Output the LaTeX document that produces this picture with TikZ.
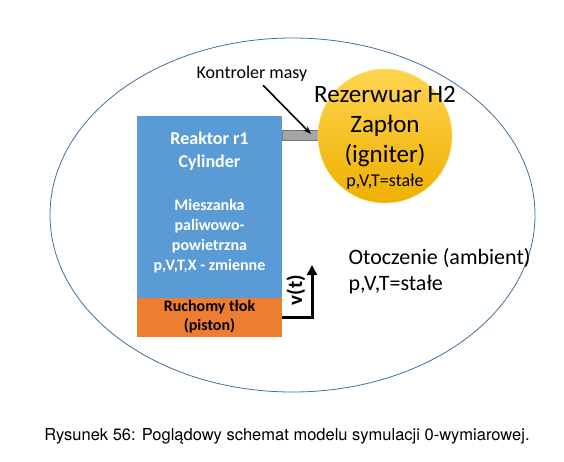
\documentclass[tikz,border=0pt]{standalone}
\usepackage{fontspec}
\setmainfont{Carlito}
\newfontfamily\capfont{TeX Gyre Heros}
\usepackage{tikz}
\usetikzlibrary{positioning,calc,arrows.meta}
\definecolor{reactorblue}{RGB}{91,155,213}
\definecolor{pistonorange}{RGB}{237,125,49}
\definecolor{valvegray}{RGB}{165,165,165}
\definecolor{ambientblue}{RGB}{65,113,156}
\definecolor{goldtop}{RGB}{255,212,80}
\definecolor{goldbottom}{RGB}{238,176,0}

\begin{document}
\begin{tikzpicture}[x=1pt,y=-1pt,
    box/.style={inner sep=0pt,minimum width=145pt,anchor=north west},
    boldtxt/.style={font=\fontsize{16}{19}\selectfont\bfseries,align=center}]
    \useasboundingbox (0,0) rectangle (564,461);

    % Ambient
    \draw[ambientblue,line width=0.8pt] (292.5,215) ellipse [x radius=242.5,y radius=177];
    \node[font=\fontsize{22}{26}\selectfont,align=left,anchor=west] (ambient) at (345,271)
        {Otoczenie (ambient)\\p,V,T=stałe};

    % Reactor
    \node[box,fill=reactorblue,minimum height=182pt] (reactor) at (137,116) {};
    \node[box,fill=pistonorange,minimum height=39pt] (piston) at (137,298) {};
    \node[white,font=\fontsize{18}{23}\selectfont\bfseries,align=center] (reactortxt) at (209.5,151.5)
        {Reaktor r1\\Cylinder};
    \node[white,boldtxt,font=\fontsize{16}{20}\selectfont\bfseries] (mixture) at (209.5,236.5)
        {Mieszanka\\paliwowo-\\powietrzna\\p,V,T,X - zmienne};
    \node[boldtxt] (pistontxt) at (209.5,316.5) {Ruchomy tłok\\(piston)};

    % Piston speed
    \coordinate (vtop) at (312,265);
    \draw[line width=3pt,-{Triangle[length=10pt,width=10pt]}] (piston.east) -| (vtop);
    \node[boldtxt,font=\fontsize{21}{24}\selectfont\bfseries,rotate=90] (speed) at (296,290) {v(t)};

    % Mass controller
    \node[draw=valvegray!70!black,fill=valvegray,inner sep=0pt,minimum width=38pt,minimum height=10pt] (valve) at (301,135) {};
    \node[font=\fontsize{18}{22}\selectfont] (controller) at (252,74) {Kontroler masy};
    \coordinate (valvetip) at (311,134);
    \draw[line width=1.6pt,-{Stealth[length=8pt]}] (controller) -- (valvetip);

    % Reservoir
    \node[circle,minimum size=134pt,top color=goldtop,bottom color=goldbottom,draw=goldtop!80!white] (reservoir) at (385,136) {};
    \node[font=\fontsize{25}{30}\selectfont,align=center] (reservoirtxt) at (385,127)
        {Rezerwuar H2\\Zapłon\\(igniter)};
    \node[font=\fontsize{18}{22}\selectfont] (reservoirstate) at (385,182) {p,V,T=stałe};

    % Caption
    \node[font=\capfont\fontsize{16.5}{20}\selectfont] (caption) at (287,436)
        {Rysunek 56: Poglądowy schemat modelu symulacji 0-wymiarowej.};
\end{tikzpicture}
\end{document}
